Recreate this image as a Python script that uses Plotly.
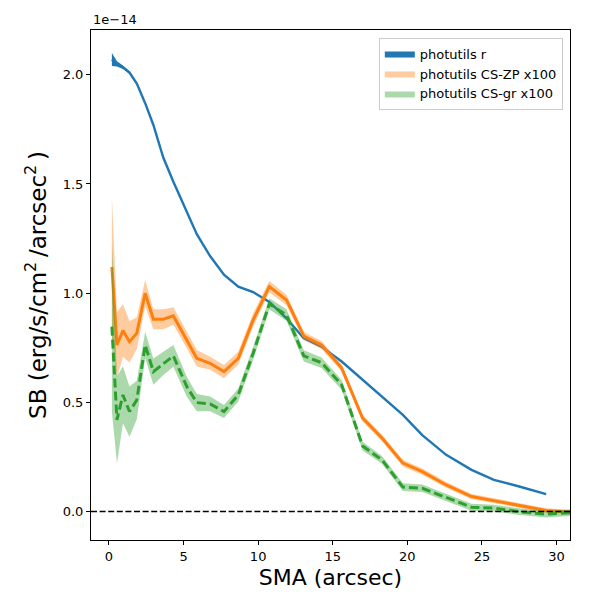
import plotly.graph_objects as go

# SMA grid (arcsec) and surface brightness in units of 1e-14 erg/s/cm2/arcsec2
sma = [0.2, 0.54, 0.94, 1.38, 1.87, 2.43, 2.98, 3.65, 4.32, 5.22, 5.89, 6.78, 7.71, 8.67, 9.67,
       10.75, 11.9, 13.06, 14.25, 15.6, 17.0, 18.3, 19.7, 21.0, 22.6, 24.3, 25.8, 27.5, 29.3, 31.0]

sb_r = [2.07, 2.05, 2.035, 2.01, 1.96, 1.87, 1.77, 1.62, 1.51, 1.37, 1.27, 1.17, 1.085, 1.03, 1.005,
        0.96, 0.885, 0.794, 0.755, 0.687, 0.605, 0.525, 0.443, 0.35, 0.26, 0.191, 0.145, 0.115, 0.08]
err_r = [0.03, 0.012, 0.008, 0.006, 0.005, 0.004, 0.004, 0.004, 0.003, 0.003, 0.003, 0.003, 0.003, 0.003, 0.003,
         0.003, 0.003, 0.003, 0.003, 0.003, 0.002, 0.002, 0.002, 0.002, 0.002, 0.002, 0.002, 0.002, 0.002]

sb_zp = [1.12, 0.763, 0.829, 0.778, 0.817, 1.0, 0.881, 0.881, 0.896, 0.786, 0.702, 0.679, 0.641, 0.702, 0.878,
         1.03, 0.969, 0.804, 0.763, 0.657, 0.428, 0.337, 0.222, 0.183, 0.122, 0.069, 0.05, 0.026, 0.005, -0.002]
err_zp = [0.32, 0.15, 0.12, 0.095, 0.073, 0.06, 0.046, 0.046, 0.04, 0.038, 0.038, 0.03, 0.03, 0.03, 0.03,
          0.026, 0.024, 0.018, 0.018, 0.016, 0.015, 0.015, 0.015, 0.014, 0.013, 0.012, 0.011, 0.01, 0.01, 0.01]

sb_gr = [0.847, 0.42, 0.534, 0.458, 0.511, 0.763, 0.641, 0.679, 0.713, 0.572, 0.499, 0.493, 0.458, 0.534, 0.725,
         0.951, 0.90, 0.713, 0.682, 0.58, 0.30, 0.237, 0.112, 0.107, 0.066, 0.02, 0.016, 0.0, -0.012, -0.005]
err_gr = [0.39, 0.2, 0.13, 0.115, 0.088, 0.06, 0.06, 0.053, 0.05, 0.046, 0.04, 0.034, 0.03, 0.03, 0.03,
          0.026, 0.026, 0.026, 0.024, 0.022, 0.02, 0.018, 0.018, 0.017, 0.016, 0.016, 0.015, 0.015, 0.015, 0.015]

series = [
    ("photutils r", sb_r, err_r, "#1f77b4", "rgb(31,119,180)", 2.4, "solid"),
    ("photutils CS-ZP x100", sb_zp, err_zp, "#ff7f0e", "rgba(255,127,14,0.4)", 3, "solid"),
    ("photutils CS-gr x100", sb_gr, err_gr, "#2ca02c", "rgba(44,160,44,0.4)", 3, "9px,4px"),
]

fig = go.Figure()

for name, y, err, color, fillcol, width, dash in series:
    x = sma[:len(y)]
    upper = [v + e for v, e in zip(y, err)]
    lower = [v - e for v, e in zip(y, err)]
    fig.add_trace(go.Scatter(
        x=x + x[::-1], y=upper + lower[::-1],
        fill="toself", fillcolor=fillcol, mode="lines",
        line=dict(width=0, color=fillcol), name=name, hoverinfo="skip",
    ))
    fig.add_trace(go.Scatter(
        x=x, y=y, mode="lines", line=dict(color=color, width=width, dash=dash),
        showlegend=False,
    ))

# zero line
fig.add_shape(type="line", xref="paper", x0=0, x1=1, yref="y", y0=0, y1=0,
              line=dict(color="black", width=1.5, dash="6px,2.6px"), layer="above")

axis_common = dict(
    showline=True, linecolor="black", linewidth=1, mirror=True,
    ticks="outside", ticklen=4, tickcolor="black", showgrid=False, zeroline=False,
    tickfont=dict(family="DejaVu Sans", size=13, color="black"),
    automargin=False,
)

# page body has an 8px margin, so the figure margins are shifted to compensate
fig.update_layout(
    width=600, height=600,
    margin=dict(l=83, r=38, t=22, b=68),
    plot_bgcolor="white", paper_bgcolor="white",
    font=dict(family="DejaVu Sans", color="black"),
    xaxis=dict(range=[-1.2, 30.9], tickvals=[0, 5, 10, 15, 20, 25, 30],
               title=dict(text="SMA (arcsec)", font=dict(size=22), standoff=7),
               **axis_common),
    yaxis=dict(range=[-0.13, 2.205], tickvals=[0, 0.5, 1.0, 1.5, 2.0],
               ticktext=["0.0", "0.5", "1.0", "1.5", "2.0"],
               title=dict(text="SB (erg/s/cm<sup>2</sup>\u2009/arcsec<sup>2</sup>\u2009)",
                          font=dict(size=23), standoff=9),
               **axis_common),
    legend=dict(x=0.985, y=0.985, xanchor="right", yanchor="top",
                bordercolor="#cccccc", borderwidth=1, bgcolor="rgba(255,255,255,0.8)",
                font=dict(size=13), tracegroupgap=2),
    showlegend=True,
)

fig.add_annotation(text="1e\u221214", xref="paper", yref="paper", x=0, y=1, xanchor="left",
                   yanchor="bottom", showarrow=False, font=dict(size=13), yshift=1)

fig.write_html("out.html")
